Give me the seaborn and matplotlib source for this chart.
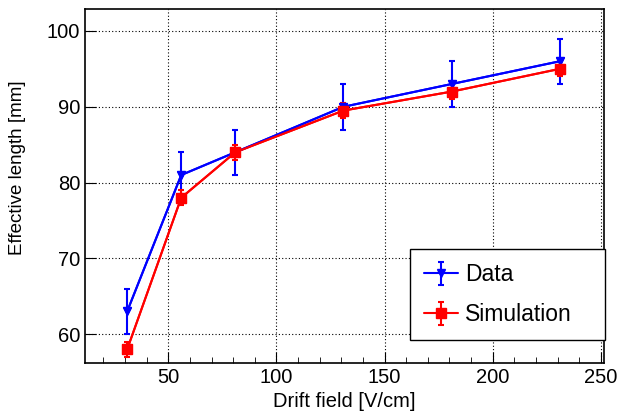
import numpy as np
import pandas as pd
import matplotlib
matplotlib.use("Agg")
import matplotlib.pyplot as plt
import seaborn as sns
from matplotlib.ticker import MultipleLocator

drift_field = [31, 56, 81, 131, 181, 231]
data_len = [63, 81, 84, 90, 93, 96]
data_err = [3, 3, 3, 3, 3, 3]
sim_len = [58, 78, 84, 89.5, 92, 95]
sim_err = [1, 1, 1, 1, 1, 1]
series_names = ["Data", "Simulation"]

df = pd.DataFrame({
    "x": drift_field * 2,
    "y": data_len + sim_len,
    "err": data_err + sim_err,
    "series": [series_names[0]] * len(drift_field) + [series_names[1]] * len(drift_field),
})

sns.set_style("ticks")
plt.rcParams['font.family'] = ['Liberation Sans', 'DejaVu Sans']
plt.rcParams['text.color'] = 'black'
plt.rcParams['axes.labelcolor'] = 'black'
plt.rcParams['xtick.color'] = 'black'
plt.rcParams['ytick.color'] = 'black'

fig = plt.figure(figsize=(6.18, 4.12), dpi=100)
ax = fig.add_axes([85/618, 1 - 363/412, (604-85)/618, (363-9)/412])

palette = {"Data": "#0000ff", "Simulation": "#ff0000"}
markers = {"Data": "v", "Simulation": "s"}
sizes = {"Data": 6, "Simulation": 7}

for name in series_names:
    sub = df[df.series == name]
    sns.lineplot(x=sub.x, y=sub.y, color=palette[name], marker=markers[name],
                 markersize=sizes[name], markeredgecolor=palette[name], lw=1.5,
                 ax=ax, legend=False, zorder=3)
    ax.errorbar(sub.x, sub.y, yerr=sub.err, color=palette[name], marker=markers[name],
                ms=sizes[name], lw=1.5, elinewidth=1.5, capsize=2.5, capthick=1.5,
                label=name, zorder=3)

ax.set_xlim(11.5, 251.5)
ax.set_ylim(56.2, 102.9)
ax.xaxis.set_major_locator(MultipleLocator(50))
ax.xaxis.set_minor_locator(MultipleLocator(10))
ax.yaxis.set_major_locator(MultipleLocator(10))
ax.yaxis.set_minor_locator(MultipleLocator(2))
ax.grid(True, which="major", color="black", linestyle=(0, (1, 2)), lw=0.8)
ax.tick_params(which="both", direction="in", top=False, right=False, labelsize=14.5)
ax.tick_params(which="major", length=8)
ax.tick_params(which="minor", length=4)
ax.tick_params(axis="y", which="minor", length=0)
for s in ax.spines.values():
    s.set_color("black")
    s.set_linewidth(1.2)

ax.set_xlabel("Drift field [V/cm]", fontsize=14.5, labelpad=4)
ax.set_ylabel("Effective length [mm]", fontsize=13.5)
ax.yaxis.set_label_coords(-0.113, (363-168)/354)

leg = ax.legend(loc="lower left",
                bbox_to_anchor=((410-85)/519, (363-340)/354, (605-410)/519, 0.2),
                mode="expand", borderaxespad=0,
                fontsize=16.5, frameon=True, fancybox=False, edgecolor="black",
                framealpha=1, borderpad=0.6, handlelength=1.5, handletextpad=0.3,
                labelspacing=0.75)
leg.get_frame().set_linewidth(1.0)

fig.savefig("out.png", dpi=100)
